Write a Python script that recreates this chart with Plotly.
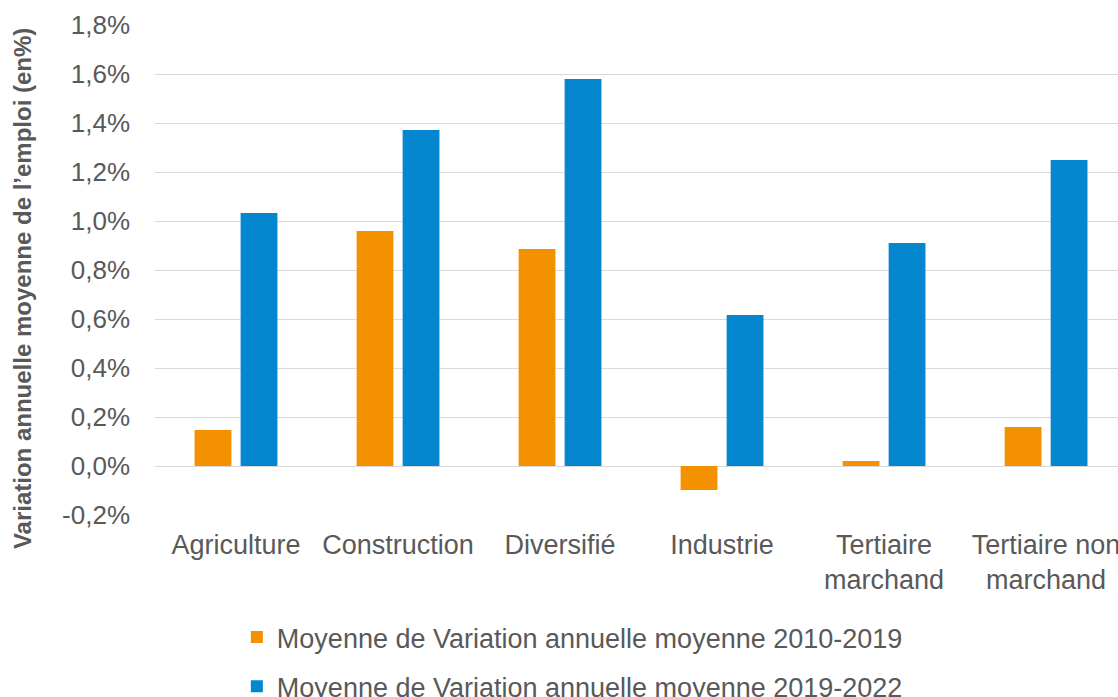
import plotly.graph_objects as go

categories = ["Agriculture", "Construction", "Diversifié", "Industrie",
              "Tertiaire<br>marchand", "Tertiaire non<br>marchand"]
series_2010_2019 = [0.147, 0.959, 0.886, -0.098, 0.020, 0.159]
series_2019_2022 = [1.033, 1.371, 1.580, 0.616, 0.910, 1.249]
name_2010_2019 = "Moyenne de Variation annuelle moyenne 2010-2019"
name_2019_2022 = "Moyenne de Variation annuelle moyenne 2019-2022"
y_tick_values = [-0.2, 0.0, 0.2, 0.4, 0.6, 0.8, 1.0, 1.2, 1.4, 1.6, 1.8]
y_tick_labels = [f"{v:.1f}%".replace(".", ",") for v in y_tick_values]
y_title = "Variation annuelle moyenne de l’emploi (en%)"

ORANGE = "#F39100"
BLUE = "#0587CF"
GREY = "#595959"
FONT = "Liberation Sans, Arial, sans-serif"

fig = go.Figure()
fig.add_trace(go.Bar(x=categories, y=series_2010_2019, name=name_2010_2019,
                     marker=dict(color=ORANGE, line=dict(width=0)),
                     legendgroup="a"))
fig.add_trace(go.Bar(x=categories, y=series_2019_2022, name=name_2019_2022,
                     marker=dict(color=BLUE, line=dict(width=0)),
                     legendgroup="b"))

fig.update_layout(
    width=1118, height=697,
    margin=dict(l=155, r=0, t=25, b=182, autoexpand=False),
    paper_bgcolor="white", plot_bgcolor="white",
    barmode="group", bargap=0.432, bargroupgap=0.2,
    font=dict(family=FONT, color=GREY, size=26),
    showlegend=True,
    legend=dict(orientation="v", x=0.085, xanchor="left", y=-0.200, yanchor="top",
                font=dict(size=27, color=GREY), tracegroupgap=11,
                itemwidth=30, bgcolor="rgba(0,0,0,0)"),
    xaxis=dict(range=[-0.5, 5.444], showgrid=False, zeroline=False,
               showline=False, ticks="", ticklabelstandoff=11,
               tickfont=dict(size=27, color=GREY)),
    yaxis=dict(range=[-0.2, 1.8], tickvals=y_tick_values, ticktext=y_tick_labels,
               showgrid=True, gridcolor="#D9D9D9", gridwidth=1,
               zeroline=True, zerolinecolor="#D9D9D9", zerolinewidth=1,
               showline=False, ticks="", ticklabelstandoff=24,
               tickfont=dict(size=26, color=GREY)),
    annotations=[dict(text=f"<b>{y_title}</b>", textangle=-90,
                      xref="paper", yref="paper", x=-0.1381, y=0.461,
                      xanchor="center", yanchor="middle", showarrow=False,
                      font=dict(size=24, color=GREY))],
)

fig.write_html("out.html", config={"displayModeBar": False},
               post_script="document.body.style.margin='0';document.body.style.overflow='hidden';")
